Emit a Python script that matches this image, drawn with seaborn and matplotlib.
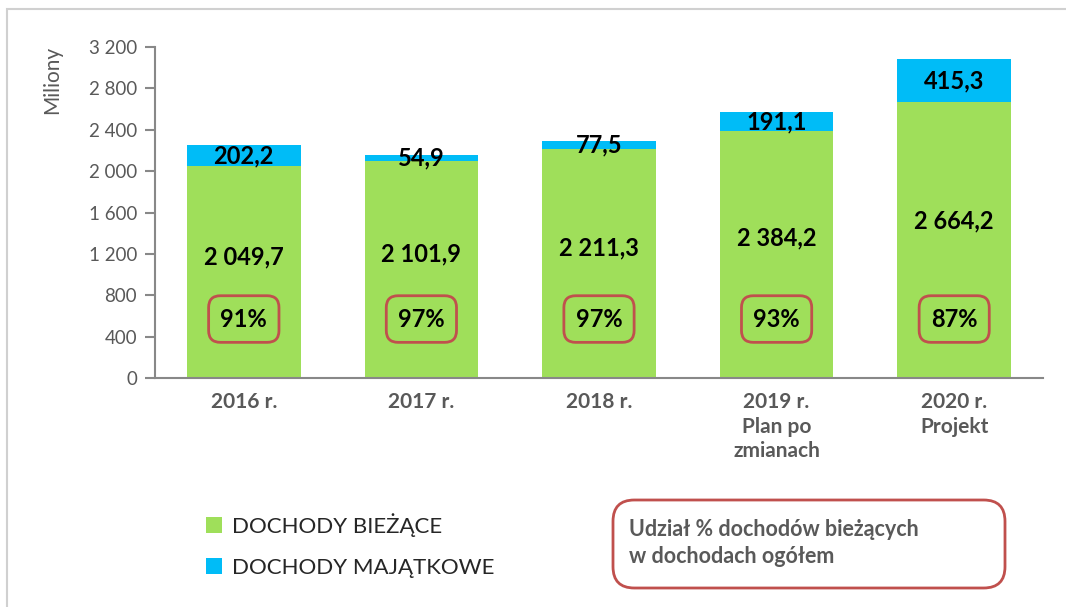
import matplotlib
import matplotlib.pyplot as plt
import pandas as pd
import seaborn as sns
from matplotlib.patches import FancyBboxPatch, Patch, Rectangle
from matplotlib.ticker import FuncFormatter

# data
years = ['2016 r.', '2017 r.', '2018 r.', '2019 r.\nPlan po\nzmianach', '2020 r.\nProjekt']
biezace = [2049.7, 2101.9, 2211.3, 2384.2, 2664.2]
majatkowe = [202.2, 54.9, 77.5, 191.1, 415.3]
udzial = ['91%', '97%', '97%', '93%', '87%']

GREEN = '#9FDF5A'
BLUE = '#00BCF7'
GREY = '#595959'
RED = '#C0504D'

sns.set_style('white')
plt.rcParams['font.family'] = ['Lato', 'DejaVu Sans']

df = pd.DataFrame({'rok': years, 'biezace': biezace, 'majatkowe': majatkowe})
df['razem'] = df.biezace + df.majatkowe

fig = plt.figure(figsize=(10.66, 6.07), dpi=100)
ax = fig.add_axes([155/1066, 1-378/607, (1043-155)/1066, (378-47)/607])

sns.barplot(data=df, x='rok', y='razem', color=BLUE, width=0.64, linewidth=0, saturation=1, ax=ax)
sns.barplot(data=df, x='rok', y='biezace', color=GREEN, width=0.64, linewidth=0, saturation=1, ax=ax)

ax.set_xlim(-0.5, len(years) - 0.5)
ax.set_ylim(0, 3200)
ax.set_yticks(range(0, 3201, 400))
ax.yaxis.set_major_formatter(FuncFormatter(lambda v, p: f"{int(v):,}".replace(",", " ")))

# labels
for i, row in df.iterrows():
    ax.text(i, row.biezace + row.majatkowe / 2, f"{row.majatkowe:.1f}".replace('.', ','),
            ha='center', va='center', fontsize=17, fontweight='bold', color='black')
    ax.text(i, row.biezace * 0.57, f"{row.biezace:,.1f}".replace(',', ' ').replace('.', ','),
            ha='center', va='center', fontsize=17, fontweight='bold', color='black')
    ax.text(i, 570, udzial[i], ha='center', va='center', fontsize=17, fontweight='bold', color='black',
            bbox=dict(boxstyle='round,pad=0.5', fc='none', ec=RED, lw=2))

# axes styling (Excel-like)
for s in ['top', 'right']:
    ax.spines[s].set_visible(False)
for s in ['left', 'bottom']:
    ax.spines[s].set_color('#888888')
    ax.spines[s].set_linewidth(1.5)
ax.set_xticks([i - 0.5 for i in range(len(years) + 1)], minor=True)
ax.tick_params(axis='x', which='major', length=0, pad=10)
ax.tick_params(axis='x', which='minor', length=8, width=1.5, color='#888888', direction='out')
ax.tick_params(axis='y', length=7, width=1.5, color='#888888', direction='out', left=True,
               labelsize=13.5, labelcolor=GREY, pad=6)
for lab in ax.get_xticklabels():
    lab.set_fontsize(15)
    lab.set_fontweight('bold')
    lab.set_color(GREY)
    lab.set_linespacing(1.3)
ax.set_xlabel('')
ax.set_ylabel('Miliony', fontsize=15, color=GREY)
ax.yaxis.set_label_coords(-0.105, 0.9)

# legend
handles = [Patch(facecolor=GREEN, edgecolor='none', label='DOCHODY BIEŻĄCE'),
           Patch(facecolor=BLUE, edgecolor='none', label='DOCHODY MAJĄTKOWE')]
fig.legend(handles=handles, loc='upper left', bbox_to_anchor=(186/1066, 1-493/607), frameon=False,
           fontsize=16, handlelength=0.7, handleheight=0.7, handletextpad=0.45, labelspacing=0.95)

# note box
fig.patches.append(FancyBboxPatch((613/1066, 1-588/607), (1005-613)/1066, (588-500)/607,
                                  boxstyle='round,pad=0,rounding_size=0.02', transform=fig.transFigure,
                                  fc='white', ec=RED, lw=2, mutation_aspect=1066/607))
fig.text(629/1066, 1-543/607, 'Udział % dochodów bieżących\nw dochodach ogółem', ha='left', va='center',
         fontsize=15.5, fontweight='bold', color=GREY, linespacing=1.35)

# outer frame
fig.patches.append(Rectangle((7/1066, -0.05), 1.1, 1-9/607 + 0.05, transform=fig.transFigure,
                             fill=False, ec='#D0D0D0', lw=1.5))

fig.savefig('out.png', dpi=100)
